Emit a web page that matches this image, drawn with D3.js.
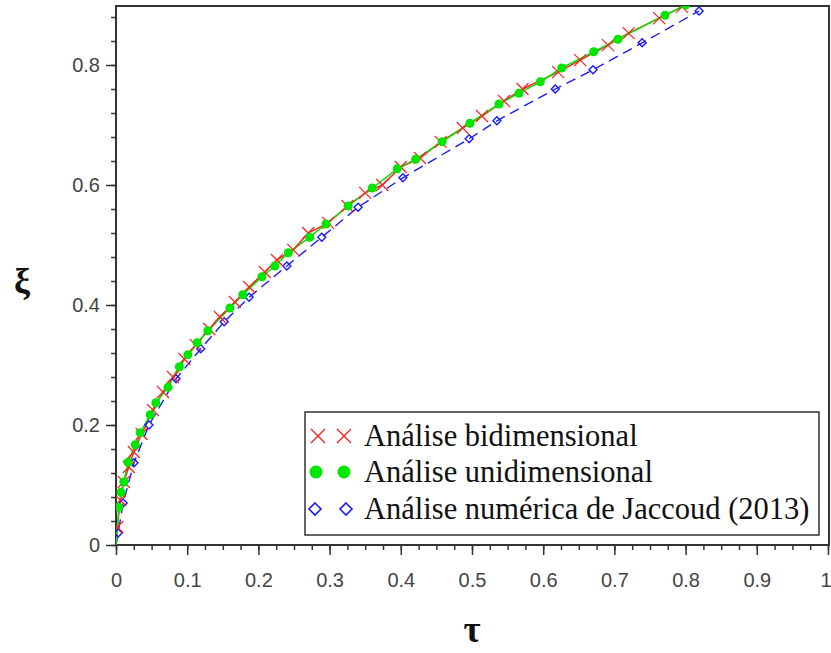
<!DOCTYPE html>
<html><head><meta charset="utf-8">
<script src="https://cdn.jsdelivr.net/npm/d3@7"></script>
<style>body{margin:0;background:#fff;} svg{display:block;}</style>
</head><body>
<script>
// ---- data ----
const seriesNames = ["Análise bidimensional", "Análise unidimensional", "Análise numérica de Jaccoud (2013)"];
const xTicks = [0,0.1,0.2,0.3,0.4,0.5,0.6,0.7,0.8,0.9,1];
const xTickLabels = ["0","0.1","0.2","0.3","0.4","0.5","0.6","0.7","0.8","0.9","1"];
const yTicks = [0,0.2,0.4,0.6,0.8];
const yTickLabels = ["0","0.2","0.4","0.6","0.8"];

const bidiTau = [0,0.002,0.006,0.011,0.018,0.025,0.036,0.052,0.066,0.080,0.096,0.112,0.131,0.146,0.167,0.187,0.209,0.226,0.249,0.270,0.298,0.325,0.350,0.374,0.400,0.427,0.456,0.487,0.514,0.545,0.571,0.621,0.652,0.691,0.720,0.763,0.795];
const bidiXi  = [0,0.030,0.075,0.105,0.130,0.155,0.185,0.225,0.255,0.280,0.310,0.333,0.360,0.380,0.405,0.430,0.455,0.475,0.492,0.520,0.537,0.565,0.587,0.600,0.630,0.645,0.672,0.695,0.715,0.740,0.760,0.788,0.808,0.833,0.853,0.878,0.897];

const uniTau = [0,0.004,0.007,0.011,0.017,0.027,0.034,0.048,0.056,0.073,0.089,0.101,0.114,0.129,0.160,0.178,0.205,0.223,0.242,0.272,0.295,0.326,0.360,0.395,0.421,0.458,0.497,0.538,0.566,0.596,0.626,0.671,0.705,0.771,0.800];
const uniXi  = [0,0.063,0.088,0.105,0.138,0.167,0.187,0.217,0.237,0.263,0.297,0.317,0.337,0.357,0.395,0.417,0.447,0.465,0.487,0.513,0.535,0.565,0.595,0.627,0.643,0.672,0.703,0.735,0.753,0.772,0.795,0.822,0.843,0.883,0.900];

const jacTau = [0,0.003,0.010,0.0253,0.0463,0.0843,0.119,0.152,0.187,0.240,0.289,0.340,0.403,0.496,0.535,0.617,0.670,0.739,0.819];
const jacXi  = [0,0.020,0.070,0.137,0.200,0.277,0.327,0.372,0.413,0.465,0.513,0.563,0.612,0.677,0.707,0.760,0.792,0.837,0.890];

// ---- layout ----
const W = 831, H = 653;
const L = 116, R = 829, T = 6, B = 545;
const svg = d3.select("body").append("svg").attr("width", W).attr("height", H);

const x = d3.scaleLinear().domain([0,1]).range([L, L + 712]);
const y = d3.scaleLinear().domain([0,0.9]).range([B, B - 540]);

const axisColor = "#333";
svg.append("clipPath").attr("id","plotclip").append("rect")
  .attr("x", L).attr("y", T).attr("width", R - L).attr("height", B - T);

// frame
svg.append("rect").attr("x", L).attr("y", T).attr("width", R - L).attr("height", B - T)
  .attr("fill","none").attr("stroke", axisColor).attr("stroke-width", 2);

// x axis
const xMinor = d3.range(0, 1.0001, 0.025);
const xAxis = svg.append("g").attr("transform", `translate(0,${B})`);
xAxis.call(d3.axisBottom(x).tickValues(xMinor).tickSize(5).tickFormat(""))
  .call(g => g.select(".domain").remove());
xAxis.append("g").call(d3.axisBottom(x).tickValues(xTicks).tickSize(10)
  .tickFormat((d,i) => xTickLabels[i]).tickPadding(18))
  .call(g => g.select(".domain").remove());
xAxis.selectAll("line").attr("stroke", axisColor).attr("stroke-width", 1.5);
xAxis.selectAll("text").attr("font-family","Liberation Sans, Arial, sans-serif")
  .attr("font-size", 20).attr("fill", "#444");
// keep the last label ("1") inside the picture
xAxis.selectAll("text").filter(d => d === 1).attr("text-anchor","end").attr("dx", 3);

// y axis
const yMinor = d3.range(0, 0.9001, 0.04);
const yAxis = svg.append("g").attr("transform", `translate(${L},0)`);
yAxis.call(d3.axisLeft(y).tickValues(yMinor).tickSize(5).tickFormat(""))
  .call(g => g.select(".domain").remove());
yAxis.append("g").call(d3.axisLeft(y).tickValues(yTicks).tickSize(10)
  .tickFormat((d,i) => yTickLabels[i]).tickPadding(6))
  .call(g => g.select(".domain").remove());
yAxis.selectAll("line").attr("stroke", axisColor).attr("stroke-width", 1.5);
yAxis.selectAll("text").attr("font-family","Liberation Sans, Arial, sans-serif")
  .attr("font-size", 20).attr("fill", "#444");

// axis titles
svg.append("text").attr("x", (L + 828)/2).attr("y", 642).attr("text-anchor","middle")
  .attr("font-family","Liberation Serif, Times New Roman, serif").attr("font-weight","bold")
  .attr("font-size", 37).attr("fill","#111").text("τ");
svg.append("text").attr("x", 22).attr("y", 293).attr("text-anchor","middle")
  .attr("font-family","Liberation Serif, Times New Roman, serif").attr("font-weight","bold")
  .attr("font-size", 36).attr("fill","#111").text("ξ");

// ---- series ----
const red = "#ff2020", green = "#00e600", blue = "#1a1aff";
const plot = svg.append("g").attr("clip-path","url(#plotclip)");
const line = d3.line().x(d => x(d[0])).y(d => y(d[1]));
const bidi = bidiTau.map((t,i) => [t, bidiXi[i]]);
const uni = uniTau.map((t,i) => [t, uniXi[i]]);
const jac = jacTau.map((t,i) => [t, jacXi[i]]);

plot.append("path").datum(jac).attr("d", line).attr("fill","none")
  .attr("stroke", blue).attr("stroke-width", 1.4).attr("stroke-dasharray","10,6");
plot.append("path").datum(bidi).attr("d", line).attr("fill","none")
  .attr("stroke", red).attr("stroke-width", 1.5);
plot.append("path").datum(uni).attr("d", line).attr("fill","none")
  .attr("stroke", green).attr("stroke-width", 1.5);

function drawX(g, cx, cy, s, sw) {
  g.append("path").attr("d", `M${cx-s},${cy-s}L${cx+s},${cy+s}M${cx-s},${cy+s}L${cx+s},${cy-s}`)
    .attr("stroke", red).attr("stroke-width", sw).attr("fill","none");
}
function drawDiamond(g, cx, cy, s, sw) {
  g.append("path").attr("d", `M${cx},${cy-s}L${cx+s},${cy}L${cx},${cy+s}L${cx-s},${cy}Z`)
    .attr("stroke", blue).attr("stroke-width", sw).attr("fill","none");
}

jac.slice(1).forEach(d => drawDiamond(plot, x(d[0]), y(d[1]), 4, 1.4));
bidi.slice(1).forEach(d => drawX(plot, x(d[0]), y(d[1]), 6, 1.2));
plot.selectAll("circle.uni").data(uni.slice(1)).join("circle").attr("class","uni")
  .attr("cx", d => x(d[0])).attr("cy", d => y(d[1])).attr("r", 4.5).attr("fill", green);

// ---- legend ----
const lg = svg.append("g");
lg.append("rect").attr("x", 305).attr("y", 412).attr("width", 514).attr("height", 123)
  .attr("fill","#fff").attr("stroke", axisColor).attr("stroke-width", 1.5);
const rowsY = [436, 472, 509];
drawX(lg, 318, rowsY[0], 7, 1.4); drawX(lg, 344, rowsY[0], 7, 1.4);
lg.append("circle").attr("cx", 316).attr("cy", rowsY[1]).attr("r", 6.5).attr("fill", green);
lg.append("circle").attr("cx", 344).attr("cy", rowsY[1]).attr("r", 6.5).attr("fill", green);
drawDiamond(lg, 315, rowsY[2], 6, 1.6); drawDiamond(lg, 346, rowsY[2], 6, 1.6);
seriesNames.forEach((n,i) => {
  lg.append("text").attr("x", 364).attr("y", rowsY[i] + 10)
    .attr("font-family","Liberation Serif, Times New Roman, serif")
    .attr("font-size", 30.5).attr("fill","#111").text(n);
});
</script>
</body></html>
